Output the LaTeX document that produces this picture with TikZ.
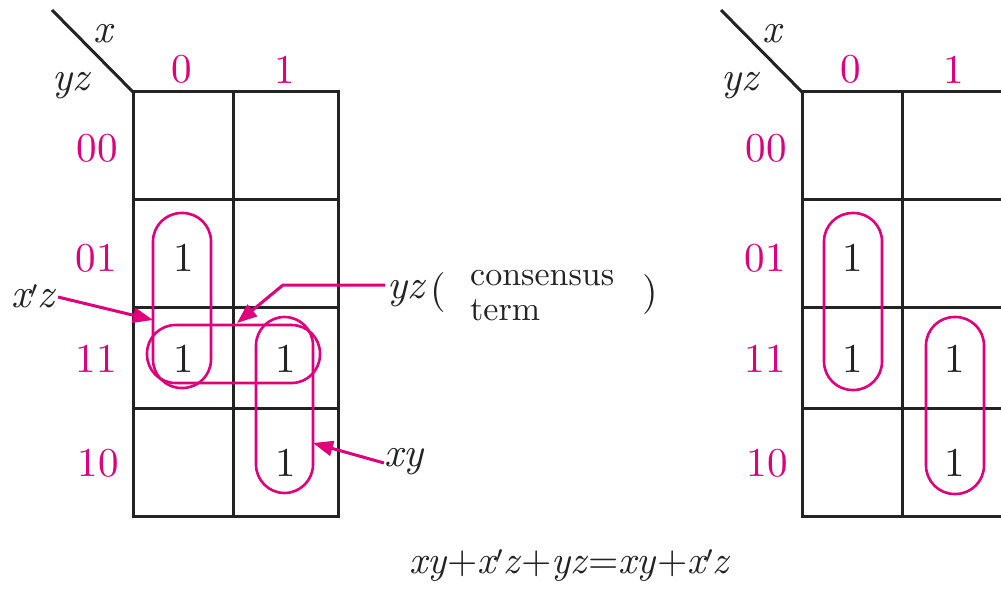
\documentclass[tikz,border=0pt]{standalone}
\usepackage{fontspec}
\setmainfont{lmroman10}[Extension=.otf, UprightFont=*-regular, ItalicFont=*-italic, BoldFont=*-bold, BoldItalicFont=*-bolditalic]
\usetikzlibrary{arrows.meta}
\definecolor{kpink}{RGB}{224,0,124}
\definecolor{kgrid}{RGB}{35,35,35}
\begin{document}
\begin{tikzpicture}[x=1pt,y=-1pt,
  gridline/.style={line width=3pt, kgrid, line cap=rect},
  loopc/.style={line width=2.6pt, kpink, rounded corners=28.5pt},
  lbl/.style={text=kpink, font=\fontsize{41}{41}\selectfont, inner sep=0pt},
  one/.style={text=kgrid, font=\fontsize{41}{41}\selectfont, inner sep=0pt},
  var/.style={text=kgrid, font=\fontsize{41}{41}\selectfont\itshape, inner sep=0pt},
  small/.style={text=kgrid, font=\fontsize{34}{34}\selectfont, inner sep=0pt},
  ptr/.style={kpink, line width=3pt, -{Triangle[length=20pt,width=15pt]}},
]
\clip (0,0) rectangle (1001,591);
\fill[white] (0,0) rectangle (1001,591);

\foreach \dx/\nm in {0/L,669/R}{
  \coordinate (d1\nm) at ({52+\dx},10);
  \coordinate (d2\nm) at ({133+\dx},92);
  \draw[line width=3pt, kgrid] (d1\nm) -- (d2\nm);
  \node[var, anchor=base] (vx\nm) at ({103+\dx},43) {x};
  \node[var, anchor=base] (vyz\nm) at ({71+\dx},91) {yz};
  \draw[gridline] ({133+\dx},92) rectangle ({338+\dx},516);
  \draw[gridline] ({233+\dx},92) -- ({233+\dx},516);
  \foreach \yy in {199,307,408}{
    \draw[gridline] ({133+\dx},\yy) -- ({338+\dx},\yy);
  }
  \node[lbl] (c0\nm) at ({182+\dx},69) {0};
  \node[lbl] (c1\nm) at ({285+\dx},70) {1};
  \node[lbl, anchor=east] (r00\nm) at ({118+\dx},148) {00};
  \node[lbl, anchor=east] (r01\nm) at ({117+\dx},258) {01};
  \node[lbl, anchor=east] (r11\nm) at ({117+\dx},359) {11};
  \node[lbl, anchor=east] (r10\nm) at ({119+\dx},463) {10};
  \node[one] (o01\nm) at ({184+\dx},258) {1};
  \node[one] (o11a\nm) at ({184+\dx},359) {1};
  \node[one] (o11b\nm) at ({286+\dx},359) {1};
  \node[one] (o10\nm) at ({286+\dx},463) {1};
}

\draw[loopc] (153,213) rectangle (211,388);
\draw[loopc] (147,325) rectangle (320,383);
\draw[loopc] (256,317) rectangle (313,493);
\draw[loopc] (824,213) rectangle (882,390);
\draw[loopc] (926,317) rectangle (984,494);

\node[var] (lxz) at (33,296) {x$'$z};
\node[var, anchor=base east] (lyz) at (424,298) {yz};
\node[var, anchor=base west, font=\fontsize{40}{40}\selectfont] (lpo) at (430,302) {(};
\node[small, anchor=base west] (lcons) at (470,285) {consensus};
\node[small, anchor=base west] (lterm) at (470,320) {term};
\node[var, anchor=base west, font=\fontsize{40}{40}\selectfont] (lpc) at (642,304) {)};
\node[var] (lxy) at (404,462) {xy};

\coordinate (xzs) at (58,297);
\coordinate (xzt) at (153,320);
\coordinate (yzs) at (385,285);
\coordinate (yzk) at (283,285);
\coordinate (yzt) at (237,323);
\coordinate (xys) at (384,463);
\coordinate (xyt) at (313,443);
\draw[ptr] (xzs) -- (xzt);
\draw[ptr] (yzs) -- (yzk) -- (yzt);
\draw[ptr] (xys) -- (xyt);

\node[text=kgrid, font=\fontsize{39}{39}\selectfont, inner sep=0pt, anchor=base] (eq) at (570,573)
  {\textit{xy}+\textit{x$'$z}+\textit{yz}=\textit{xy}+\textit{x$'$z}};
\end{tikzpicture}
\end{document}
